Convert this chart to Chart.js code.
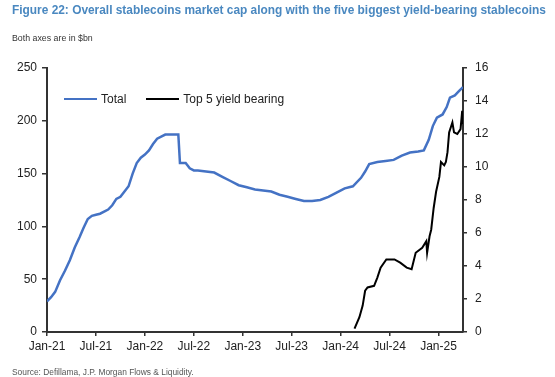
<!DOCTYPE html>
<html>
<head>
<meta charset="utf-8">
<script src="https://cdn.jsdelivr.net/npm/chart.js@4.4.1/dist/chart.umd.min.js"></script>
<style>
    html, body { margin: 0; padding: 0; background: #fff; }
    body { width: 555px; height: 377px; position: relative; overflow: hidden; font-family: 'Liberation Sans', Arial, sans-serif; }
    #title { position: absolute; left: 12px; top: 3px; font-size: 11.9px; font-weight: bold; color: #4a88c0; white-space: nowrap; }
    #subtitle { position: absolute; left: 12px; top: 33px; font-size: 8.8px; color: #333; white-space: nowrap; }
    #source { position: absolute; left: 12px; top: 367px; font-size: 8.4px; color: #555; white-space: nowrap; }
    #chartBox { position: absolute; left: 0; top: 0; width: 555px; height: 377px; }
    #legend { position: absolute; left: 64px; top: 92px; font-size: 12px; color: #222; display: flex; }
    .lg-item { display: flex; align-items: center; margin-right: 20px; }
    .lg-line { width: 33px; height: 2px; margin-right: 4px; }
</style>
</head>
<body>
<div id="chartBox"><canvas id="stableChart" width="555" height="377"></canvas></div>
<div id="title">Figure 22: Overall stablecoins market cap along with the five biggest yield-bearing stablecoins</div>
<div id="subtitle">Both axes are in $bn</div>
<div id="legend"></div>
<div id="source">Source: Defillama, J.P. Morgan Flows &amp; Liquidity.</div>

<script>
// months since Jan-21
const tickLabels = ['Jan-21', 'Jul-21', 'Jan-22', 'Jul-22', 'Jan-23', 'Jul-23', 'Jan-24', 'Jul-24', 'Jan-25'];

const totalMonths = [0, 0.5, 1, 1.6, 2.2, 2.8, 3.4, 4.0, 4.5, 5.0, 5.5, 6.0, 6.5, 7.0, 7.5, 8.0, 8.5, 9.0, 9.5, 10.0,
    10.5, 11.0, 11.5, 12.0, 12.5, 13.0, 13.5, 14.0, 14.5, 15.0, 15.5, 16.1, 16.3, 17.0, 17.5, 18.0, 18.5, 19.5, 20.5,
    21.5, 22.5, 23.5, 24.5, 25.5, 26.5, 27.5, 28.5, 29.5, 30.5, 31.5, 32.5, 33.5, 34.5, 35.5, 36.5, 37.5, 38.5, 39.0,
    39.5, 40.5, 41.5, 42.5, 43.5, 44.5, 45.5, 46.2, 46.8, 47.3, 47.8, 48.5, 49.0, 49.4, 50.0, 50.5, 51.0];
const totalValues = [29, 33, 38, 49, 58, 68, 80, 90, 99, 107, 110, 111, 112, 114, 116, 120, 126, 128, 133, 138,
    150, 160, 165, 168, 172, 178, 183, 185, 187, 187, 187, 187, 160, 160, 155, 153, 153, 152, 151,
    147, 143, 139, 137, 135, 134, 133, 130, 128, 126, 124, 124, 125, 128, 132, 136, 138, 146, 152,
    159, 161, 162, 163, 167, 170, 171, 172, 182, 195, 203, 206, 213, 222, 224, 228, 232];

const top5Months = [37.7, 38.3, 38.7, 39.0, 39.3, 40.1, 40.5, 40.9, 41.6, 42.6, 43.3, 44.1, 44.7, 45.2, 46.0, 46.5,
    46.6, 46.9, 47.1, 47.4, 47.7, 48.1, 48.3, 48.7, 48.9, 49.1, 49.3, 49.7, 49.9, 50.3, 50.7, 50.9, 51.0];
const top5Values = [0.2, 0.9, 1.6, 2.5, 2.7, 2.8, 3.3, 3.9, 4.4, 4.4, 4.2, 3.9, 3.8, 4.8, 5.1, 5.5,
    4.8, 5.8, 6.2, 7.5, 8.5, 9.4, 10.3, 10.1, 10.3, 10.9, 12.1, 12.7, 12.1, 12.0, 12.3, 13.4, 12.6];

const leftTicks = [0, 50, 100, 150, 200, 250];
const rightTicks = [0, 2, 4, 6, 8, 10, 12, 14, 16];

const axisColor = '#333';
const font = { family: "'Liberation Sans', Arial, sans-serif", size: 12 };

const datasets = [
    {
        label: 'Total',
        data: totalMonths.map((m, i) => ({ x: m, y: totalValues[i] })),
        borderColor: '#4472c4',
        backgroundColor: '#4472c4',
        borderWidth: 2.5,
        yAxisID: 'y',
        pointRadius: 0,
        tension: 0,
        fill: false
    },
    {
        label: 'Top 5 yield bearing',
        data: top5Months.map((m, i) => ({ x: m, y: top5Values[i] })),
        borderColor: '#000',
        backgroundColor: '#000',
        borderWidth: 2,
        yAxisID: 'y1',
        pointRadius: 0,
        tension: 0,
        fill: false
    }
];

new Chart(document.getElementById('stableChart'), {
    type: 'line',
    data: { datasets: datasets },
    options: {
        responsive: false,
        animation: false,
        layout: { padding: { top: 68, bottom: 20, left: 0, right: 0 } },
        plugins: { legend: { display: false }, tooltip: { enabled: false } },
        scales: {
            x: {
                type: 'linear',
                min: 0,
                max: 51,
                afterBuildTicks: function (scale) {
                    scale.ticks = tickLabels.map((t, i) => ({ value: i * 6 }));
                },
                afterFit: function (scale) { scale.height = 25; },
                ticks: {
                    color: '#222',
                    font: font,
                    padding: 3,
                    maxRotation: 0,
                    autoSkip: false,
                    callback: function (v) { return tickLabels[v / 6]; }
                },
                grid: { drawOnChartArea: false, drawTicks: true, tickLength: 4, color: axisColor, lineWidth: 1.5 },
                border: { display: true, color: axisColor, width: 2 }
            },
            y: {
                position: 'left',
                min: 0,
                max: 250,
                afterBuildTicks: function (scale) {
                    scale.ticks = leftTicks.map(v => ({ value: v }));
                },
                afterFit: function (scale) { scale.width = 47; },
                ticks: { color: '#222', font: font, padding: 5 },
                grid: { drawOnChartArea: false, drawTicks: true, tickLength: 5, color: axisColor, lineWidth: 1.5 },
                border: { display: true, color: axisColor, width: 2 }
            },
            y1: {
                position: 'right',
                min: 0,
                max: 16,
                afterBuildTicks: function (scale) {
                    scale.ticks = rightTicks.map(v => ({ value: v }));
                },
                afterFit: function (scale) { scale.width = 92; },
                ticks: { color: '#222', font: font, padding: 8 },
                grid: { drawOnChartArea: false, drawTicks: true, tickLength: 4, color: axisColor, lineWidth: 1.5 },
                border: { display: true, color: axisColor, width: 2 }
            }
        }
    }
});

// HTML legend from the datasets
const legendBox = document.getElementById('legend');
datasets.forEach(function (ds) {
    const item = document.createElement('div');
    item.className = 'lg-item';
    const line = document.createElement('div');
    line.className = 'lg-line';
    line.style.background = ds.borderColor;
    const txt = document.createElement('span');
    txt.textContent = ds.label;
    item.appendChild(line);
    item.appendChild(txt);
    legendBox.appendChild(item);
});
</script>
</body>
</html>
